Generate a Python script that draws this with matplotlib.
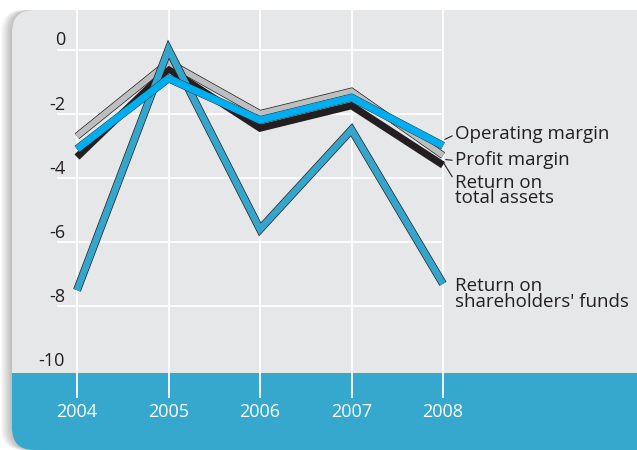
import matplotlib
matplotlib.use("Agg")
import matplotlib.pyplot as plt
import matplotlib.patheffects as pe
from matplotlib.patches import FancyBboxPatch, Rectangle

plt.rcParams['font.family'] = ['Open Sans', 'DejaVu Sans']

# ── Data ──
years = [2004, 2005, 2006, 2007, 2008]
operating_margin = [-3.1, -0.9, -2.2, -1.5, -3.0]
profit_margin = [-2.7, -0.4, -2.0, -1.3, -3.3]
return_total_assets = [-3.35, -0.6, -2.45, -1.75, -3.6]
return_shareholders = [-7.5, 0.0, -5.6, -2.5, -7.3]
y_ticks = [0, -2, -4, -6, -8, -10]

# ── Colours ──
PANEL = '#e6e7e8'
BAND = '#36a7cd'
DARK = '#231f20'
TEAL = '#35a5cc'
BLUE = '#00aeef'
GRAY = '#bcbec0'

W, H = 637, 450
fig = plt.figure(figsize=(W / 100, H / 100), dpi=100)

# ── Background panel (pixel coordinates) ──
bg = fig.add_axes([0, 0, 1, 1])
bg.set_xlim(0, W)
bg.set_ylim(H, 0)
bg.axis('off')

for i in range(1, 12):
    bg.add_patch(FancyBboxPatch((12 - i, 10), 700, 440,
                                boxstyle='round,pad=0,rounding_size=22',
                                fc='black', ec='none', alpha=0.025))
bg.add_patch(FancyBboxPatch((12, 10), 700, 440,
                            boxstyle='round,pad=0,rounding_size=22',
                            fc=PANEL, ec='none'))
band = FancyBboxPatch((12, 10), 700, 440,
                      boxstyle='round,pad=0,rounding_size=22',
                      fc=BAND, ec='none')
bg.add_patch(band)
band.set_clip_path(Rectangle((0, 373), W, H - 373, transform=bg.transData))

# ── Data axes mapped onto the panel ──
x0_px, x_step = 77, 91.5      # pixel of 2004, pixels per year
y0_px, y_step = 49.5, 32.1    # pixel of value 0, pixels per unit

ax = fig.add_axes([0, 0, 1, 1])
ax.patch.set_visible(False)
ax.axis('off')
ax.set_xlim(years[0] - x0_px / x_step, years[0] + (W - x0_px) / x_step)
ax.set_ylim(-(H - y0_px) / y_step, y0_px / y_step)

# ── Grid ──
ax.hlines(y_ticks[:-1], years[0] - 20 / x_step, years[-1], color='white', lw=1.3, zorder=1)
ax.vlines(years, -10.86, 1.23, color='white', lw=1.3, zorder=1)

# ── Tick labels ──
for v in y_ticks:
    ax.annotate(str(v), xy=(years[0] - 12 / x_step, v), xytext=(0, 6.5),
                textcoords='offset points', ha='right', va='center',
                fontsize=13, color=DARK)
for yr in years:
    ax.text(yr, -11.3, str(yr), ha='center', va='center', fontsize=13, color='white')

# ── Lines ──
line_kw = dict(solid_joinstyle='miter', solid_capstyle='butt')


def outlined(lw, extra=1.0):
    return [pe.Stroke(linewidth=lw + extra, foreground=DARK), pe.Normal()]


ax.plot(years, return_total_assets, color=DARK, lw=5.2, zorder=3, **line_kw)
ax.plot(years, profit_margin, color=GRAY, lw=4.2, zorder=4,
        path_effects=outlined(4.2), **line_kw)
ax.plot(years, return_shareholders, color=TEAL, lw=4.8, zorder=5,
        path_effects=outlined(4.8), **line_kw)
ax.plot(years, operating_margin, color=BLUE, lw=5.2, zorder=6,
        path_effects=outlined(5.2, 0.5), **line_kw)

# ── Series labels ──
lx = years[-1] + 12 / x_step
txt = dict(fontsize=13.5, color=DARK, ha='left', va='center', linespacing=0.82)


def leader(rel_y):
    return dict(arrowstyle='-', lw=0.8, color=DARK, shrinkA=0, shrinkB=0,
                relpos=(0, rel_y))


ax.annotate('Operating margin', xy=(years[-1] + 0.02, operating_margin[-1] + 0.2),
            xytext=(lx, -2.62), arrowprops=leader(0.45), **txt)
ax.annotate('Profit margin', xy=(years[-1] + 0.03, -3.43),
            xytext=(lx, -3.43), arrowprops=leader(0.45), **txt)
ax.annotate('Return on\ntotal assets', xy=(years[-1] + 0.0, return_total_assets[-1] + 0.1),
            xytext=(lx, -4.4), arrowprops=leader(0.78), **txt)
ax.text(lx, -7.62, "Return on\nshareholders' funds", **txt)

fig.savefig('out.png', dpi=100)
